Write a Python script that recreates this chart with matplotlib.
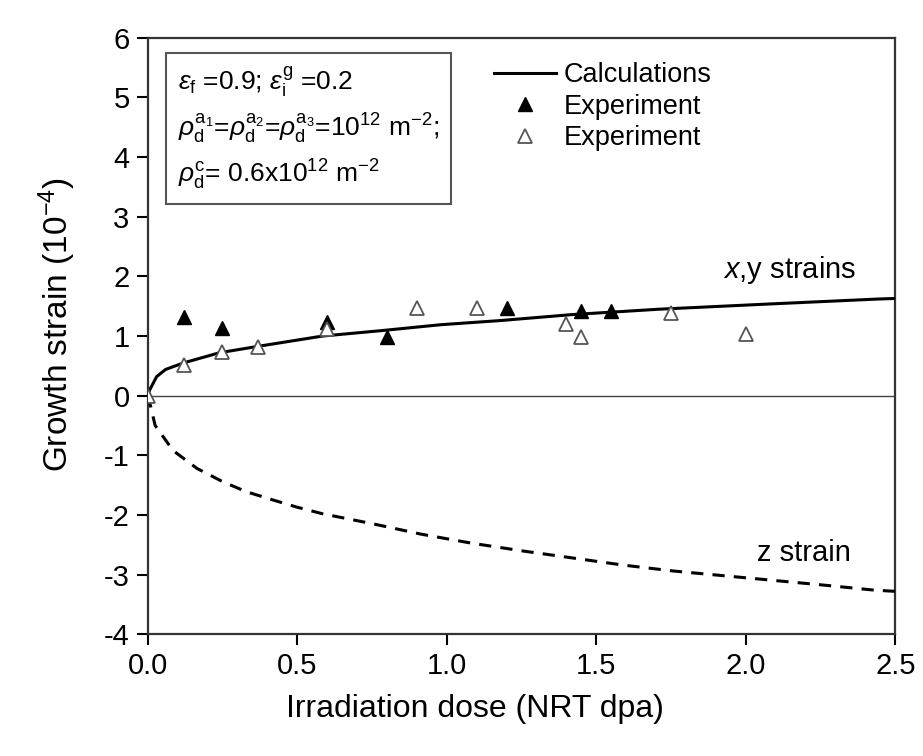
import matplotlib
matplotlib.use("Agg")
import matplotlib.pyplot as plt

plt.rcParams['font.family'] = ['Liberation Sans', 'DejaVu Sans']
plt.rcParams['mathtext.fontset'] = 'custom'
plt.rcParams['mathtext.rm'] = 'Liberation Sans'
plt.rcParams['mathtext.it'] = 'Liberation Sans:italic'
plt.rcParams['axes.unicode_minus'] = False

# calculated curves
calc_x = [0.0, 0.007, 0.03, 0.06, 0.12, 0.24, 0.36, 0.585, 0.78, 0.98, 1.18,
          1.42, 1.71, 2.09, 2.44, 2.5]
calc_xy = [0.0, 0.1, 0.32, 0.44, 0.55, 0.72, 0.82, 1.0, 1.09, 1.19, 1.26,
           1.36, 1.45, 1.54, 1.62, 1.63]

z_x = [0.0, 0.01, 0.025, 0.085, 0.165, 0.25, 0.33, 0.42, 0.5, 0.585, 0.675,
       0.755, 0.913, 1.08, 1.25, 1.42, 1.59, 1.76, 1.93, 2.1, 2.27, 2.43, 2.5]
z_y = [0.0, -0.18, -0.5, -0.92, -1.22, -1.44, -1.61, -1.75, -1.87, -1.98, -2.07,
       -2.15, -2.32, -2.47, -2.6, -2.72, -2.84, -2.94, -3.02, -3.1, -3.18, -3.26, -3.28]

# experiment, filled triangles
exp1_x = [0.12, 0.25, 0.6, 0.8, 1.2, 1.45, 1.55]
exp1_y = [1.32, 1.13, 1.23, 0.98, 1.47, 1.42, 1.42]

# experiment, open triangles
exp2_x = [0.0, 0.12, 0.25, 0.37, 0.6, 0.9, 1.1, 1.4, 1.45, 1.75, 2.0]
exp2_y = [0.0, 0.52, 0.74, 0.82, 1.12, 1.47, 1.47, 1.21, 0.99, 1.38, 1.03]

fig = plt.figure(figsize=(9.23, 7.56), dpi=100)
ax = fig.add_axes([0.160, 0.161, 0.810, 0.789])

ax.axhline(0, color='#444444', lw=1.0, zorder=1)
ax.plot(calc_x, calc_xy, color='black', lw=2.2, label='Calculations', zorder=3)
ax.plot(z_x, z_y, color='black', lw=2.2, linestyle=(0, (4, 3)), zorder=3)
ax.plot(exp1_x, exp1_y, linestyle='none', marker='^', markersize=10.5,
        color='black', label='Experiment', zorder=4)
ax.plot(exp2_x, exp2_y, linestyle='none', marker='^', markersize=10.5,
        markerfacecolor='white', markeredgecolor='#555555', markeredgewidth=1.3,
        label='Experiment', zorder=4)

ax.set_xlim(0, 2.5)
ax.set_ylim(-4, 6)
ax.set_xticks([0.0, 0.5, 1.0, 1.5, 2.0, 2.5])
ax.set_xticklabels(['0.0', '0.5', '1.0', '1.5', '2.0', '2.5'])
ax.set_yticks(range(-4, 7))
ax.tick_params(direction='out', length=8, width=1.5, labelsize=21, pad=5)
for s in ax.spines.values():
    s.set_linewidth(1.6)
    s.set_color('#333333')

ax.set_xlabel('Irradiation dose (NRT dpa)', fontsize=23)
ax.xaxis.set_label_coords(0.438, -0.1)
ax.set_ylabel(r'Growth strain (10$^{-4}$)', fontsize=24)
ax.yaxis.set_label_coords(-0.093, 0.52)

leg = ax.legend(loc='upper left', bbox_to_anchor=(0.43, 1.0), frameon=False,
                fontsize=19.5, handlelength=2.3, handletextpad=0.3,
                labelspacing=0.2)

box_text = (r'$\varepsilon_{\rm f}$ =0.9; $\varepsilon_{\rm i}^{\rm g}$ =0.2' '\n'
            r'$\rho_{\rm d}^{\rm a_1}$=$\rho_{\rm d}^{\rm a_2}$=$\rho_{\rm d}^{\rm a_3}$=10$^{12}$ m$^{-2}$;' '\n'
            r'$\rho_{\rm d}^{\rm c}$= 0.6x10$^{12}$ m$^{-2}$')
ax.text(0.04, 0.955, box_text, transform=ax.transAxes, fontsize=19,
        va='top', ha='left', linespacing=1.5,
        bbox=dict(boxstyle='square,pad=0.45', facecolor='white',
                  edgecolor='#555555', linewidth=1.5))

ax.text(2.37, 2.1, r'$x$,y strains', fontsize=21, ha='right', va='center')
ax.text(2.35, -2.63, 'z strain', fontsize=21, ha='right', va='center')

fig.savefig('out.png', dpi=100)
